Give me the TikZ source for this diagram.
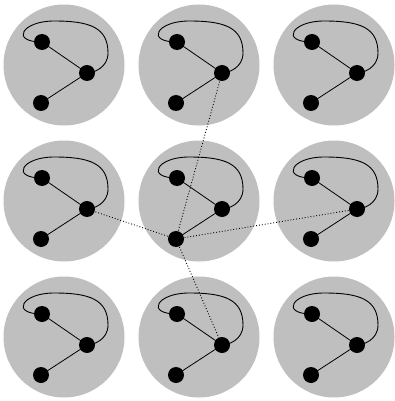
\documentclass[tikz,border=0pt]{standalone}
\begin{document}
\begin{tikzpicture}[x=1pt,y=-1pt,
  disc/.style={circle,fill=black!25,draw=none,minimum size=121pt,inner sep=0pt},
  dot/.style={circle,fill=black,draw=none,minimum size=16pt,inner sep=0pt},
  edge/.style={line width=0.8pt},
  loopedge/.style={line width=0.9pt},
  link/.style={dotted,line width=0.9pt}]
\useasboundingbox (0,0) rectangle (395,401);
\foreach \i/\x in {1/64,2/199,3/334}{
  \foreach \j/\y in {1/65,2/201,3/337}{
    \node[disc] (d-\i-\j) at (\x,\y) {};
    \coordinate (a-\i-\j) at (\x-22,\y-23);
    \coordinate (b-\i-\j) at (\x+23,\y+8);
    \coordinate (c-\i-\j) at (\x-23,\y+38);
    \coordinate (t-\i-\j) at (\x-10,\y-44);
    \coordinate (r-\i-\j) at (\x+44,\y-12);
    \draw[edge] (a-\i-\j) -- (b-\i-\j) -- (c-\i-\j);
    \draw[loopedge] (a-\i-\j) .. controls +(-32,0) and +(-32,0) .. (t-\i-\j)
      .. controls +(35,0) and +(0,-26) .. (r-\i-\j)
      .. controls +(0,15) and +(6,0) .. (b-\i-\j);
  }
}
\draw[link] (c-2-2) -- (b-2-1);
\draw[link] (c-2-2) -- (b-1-2);
\draw[link] (c-2-2) -- (b-3-2);
\draw[link] (c-2-2) -- (b-2-3);
\foreach \i in {1,2,3}{
  \foreach \j in {1,2,3}{
    \node[dot] (na-\i-\j) at (a-\i-\j) {};
    \node[dot] (nb-\i-\j) at (b-\i-\j) {};
    \node[dot] (nc-\i-\j) at (c-\i-\j) {};
  }
}
\end{tikzpicture}
\end{document}
